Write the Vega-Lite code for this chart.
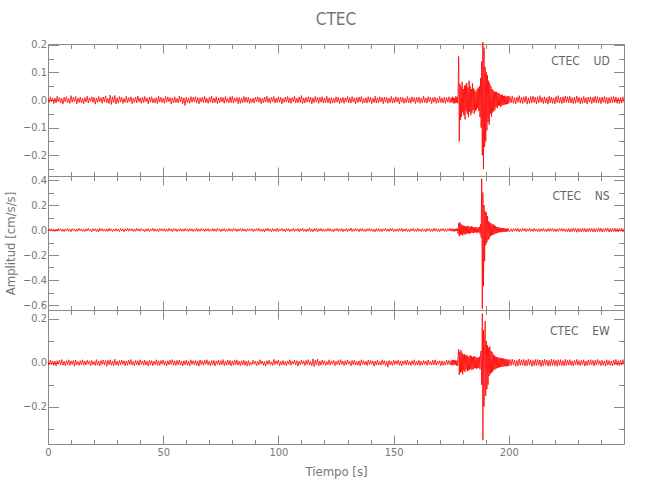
{
"$schema":"https://vega.github.io/schema/vega-lite/v6.json",
"autosize":{"type":"none"},
"padding":{"left":48,"top":44,"right":602,"bottom":456},
"background":"white",
"data":{"values":[
{"t":0,"u":0.003,"n":-0.005,"e":0.005},{"t":0.5,"u":-0.009,"n":0.009,"e":-0.010},{"t":1,"u":0.012,"n":-0.007,"e":0.013},{"t":1.5,"u":-0.006,"n":0.011,"e":-0.007},{"t":2,"u":0.008,"n":-0.010,"e":0.009},
{"t":2.5,"u":-0.013,"n":0.006,"e":-0.012},{"t":3,"u":0.007,"n":-0.012,"e":0.008},{"t":3.5,"u":-0.010,"n":0.008,"e":-0.014},{"t":4,"u":0.014,"n":-0.009,"e":0.010},{"t":4.5,"u":-0.005,"n":0.013,"e":-0.006},
{"t":5,"u":0.009,"n":-0.006,"e":0.012},{"t":5.5,"u":-0.011,"n":0.010,"e":-0.009},{"t":6,"u":0.006,"n":-0.011,"e":0.015},{"t":6.5,"u":-0.015,"n":0.007,"e":-0.011},{"t":7,"u":0.010,"n":-0.014,"e":0.007},
{"t":7.5,"u":-0.007,"n":0.009,"e":-0.013},{"t":8,"u":0.012,"n":-0.008,"e":0.010},{"t":8.5,"u":-0.009,"n":0.012,"e":-0.008},{"t":9,"u":0.005,"n":-0.010,"e":0.014},{"t":9.5,"u":-0.012,"n":0.006,"e":-0.012},
{"t":10,"u":0.016,"n":-0.013,"e":0.009},{"t":10.5,"u":-0.008,"n":0.011,"e":-0.007},{"t":11,"u":0.010,"n":-0.007,"e":0.011},{"t":11.5,"u":-0.006,"n":0.009,"e":-0.015},{"t":12,"u":0.013,"n":-0.012,"e":0.013},
{"t":12.5,"u":-0.014,"n":0.008,"e":-0.009},{"t":13,"u":0.007,"n":-0.010,"e":0.006},{"t":13.5,"u":-0.009,"n":0.014,"e":-0.012},{"t":14,"u":0.011,"n":-0.006,"e":0.010},{"t":14.5,"u":-0.010,"n":0.009,"e":-0.008},
{"t":15,"u":0.006,"n":-0.011,"e":0.014},{"t":15.5,"u":-0.013,"n":0.007,"e":-0.011},{"t":16,"u":0.009,"n":-0.013,"e":0.008},{"t":16.5,"u":-0.007,"n":0.010,"e":-0.010},{"t":17,"u":0.014,"n":-0.008,"e":0.012},
{"t":17.5,"u":-0.011,"n":0.012,"e":-0.006},{"t":18,"u":0.008,"n":-0.009,"e":0.009},{"t":18.5,"u":-0.005,"n":0.006,"e":-0.013},{"t":19,"u":0.012,"n":-0.014,"e":0.011},{"t":19.5,"u":-0.009,"n":0.011,"e":-0.009},
{"t":20,"u":0.010,"n":-0.007,"e":0.007},{"t":20.5,"u":-0.015,"n":0.010,"e":-0.012},{"t":21,"u":0.007,"n":-0.012,"e":0.015},{"t":21.5,"u":-0.008,"n":0.009,"e":-0.010},{"t":22,"u":0.013,"n":-0.016,"e":0.008},
{"t":22.5,"u":-0.006,"n":0.013,"e":-0.014},{"t":23,"u":0.009,"n":-0.008,"e":0.011},{"t":23.5,"u":-0.012,"n":0.011,"e":-0.007},{"t":24,"u":0.011,"n":-0.010,"e":0.013},{"t":24.5,"u":-0.007,"n":0.007,"e":-0.009},
{"t":25,"u":0.015,"n":-0.012,"e":0.010},{"t":25.5,"u":-0.010,"n":0.009,"e":-0.016},{"t":26,"u":0.006,"n":-0.011,"e":0.012},{"t":26.5,"u":-0.013,"n":0.014,"e":-0.008},{"t":27,"u":0.018,"n":-0.008,"e":0.014},
{"t":27.5,"u":-0.016,"n":0.010,"e":-0.011},{"t":28,"u":0.012,"n":-0.013,"e":0.009},{"t":28.5,"u":-0.009,"n":0.007,"e":-0.013},{"t":29,"u":0.017,"n":-0.009,"e":0.017},{"t":29.5,"u":-0.014,"n":0.012,"e":-0.010},
{"t":30,"u":0.008,"n":-0.010,"e":0.008},{"t":30.5,"u":-0.011,"n":0.008,"e":-0.012},{"t":31,"u":0.013,"n":-0.012,"e":0.011},{"t":31.5,"u":-0.007,"n":0.011,"e":-0.009},{"t":32,"u":0.010,"n":-0.007,"e":0.013},
{"t":32.5,"u":-0.012,"n":0.009,"e":-0.007},{"t":33,"u":0.006,"n":-0.014,"e":0.010},{"t":33.5,"u":-0.009,"n":0.010,"e":-0.014},{"t":34,"u":0.014,"n":-0.008,"e":0.009},{"t":34.5,"u":-0.010,"n":0.013,"e":-0.011},
{"t":35,"u":0.009,"n":-0.009,"e":0.012},{"t":35.5,"u":-0.006,"n":0.011,"e":-0.008},{"t":36,"u":0.012,"n":-0.006,"e":0.015},{"t":36.5,"u":-0.013,"n":0.010,"e":-0.010},{"t":37,"u":0.007,"n":-0.012,"e":0.007},
{"t":37.5,"u":-0.008,"n":0.008,"e":-0.013},{"t":38,"u":0.011,"n":-0.011,"e":0.011},{"t":38.5,"u":-0.010,"n":0.013,"e":-0.009},{"t":39,"u":0.015,"n":-0.007,"e":0.010},{"t":39.5,"u":-0.007,"n":0.009,"e":-0.012},
{"t":40,"u":0.008,"n":-0.010,"e":0.014},{"t":40.5,"u":-0.012,"n":0.012,"e":-0.007},{"t":41,"u":0.010,"n":-0.008,"e":0.009},{"t":41.5,"u":-0.009,"n":0.006,"e":-0.011},{"t":42,"u":0.013,"n":-0.013,"e":0.013},
{"t":42.5,"u":-0.006,"n":0.010,"e":-0.010},{"t":43,"u":0.007,"n":-0.009,"e":0.008},{"t":43.5,"u":-0.014,"n":0.011,"e":-0.015},{"t":44,"u":0.011,"n":-0.012,"e":0.012},{"t":44.5,"u":-0.008,"n":0.007,"e":-0.009},
{"t":45,"u":0.012,"n":-0.008,"e":0.010},{"t":45.5,"u":-0.010,"n":0.014,"e":-0.013},{"t":46,"u":0.006,"n":-0.010,"e":0.007},{"t":46.5,"u":-0.011,"n":0.009,"e":-0.008},{"t":47,"u":0.009,"n":-0.011,"e":0.014},
{"t":47.5,"u":-0.013,"n":0.007,"e":-0.011},{"t":48,"u":0.014,"n":-0.013,"e":0.009},{"t":48.5,"u":-0.007,"n":0.012,"e":-0.012},{"t":49,"u":0.010,"n":-0.006,"e":0.011},{"t":49.5,"u":-0.009,"n":0.010,"e":-0.006},
{"t":50,"u":0.007,"n":-0.009,"e":0.013},{"t":50.5,"u":-0.012,"n":0.011,"e":-0.010},{"t":51,"u":0.013,"n":-0.012,"e":0.008},{"t":51.5,"u":-0.008,"n":0.008,"e":-0.014},{"t":52,"u":0.011,"n":-0.010,"e":0.010},
{"t":52.5,"u":-0.006,"n":0.013,"e":-0.009},{"t":53,"u":0.009,"n":-0.007,"e":0.012},{"t":53.5,"u":-0.015,"n":0.009,"e":-0.007},{"t":54,"u":0.008,"n":-0.014,"e":0.015},{"t":54.5,"u":-0.010,"n":0.011,"e":-0.011},
{"t":55,"u":0.012,"n":-0.008,"e":0.009},{"t":55.5,"u":-0.009,"n":0.010,"e":-0.012},{"t":56,"u":0.006,"n":-0.012,"e":0.011},{"t":56.5,"u":-0.011,"n":0.006,"e":-0.008},{"t":57,"u":0.014,"n":-0.009,"e":0.013},
{"t":57.5,"u":-0.007,"n":0.013,"e":-0.010},{"t":58,"u":0.010,"n":-0.011,"e":0.007},{"t":58.5,"u":-0.013,"n":0.008,"e":-0.014},{"t":59,"u":0.008,"n":-0.010,"e":0.010},{"t":59.5,"u":-0.020,"n":0.012,"e":-0.009},
{"t":60,"u":0.011,"n":-0.007,"e":0.012},{"t":60.5,"u":-0.009,"n":0.009,"e":-0.011},{"t":61,"u":0.007,"n":-0.013,"e":0.008},{"t":61.5,"u":-0.012,"n":0.011,"e":-0.013},{"t":62,"u":0.013,"n":-0.008,"e":0.014},
{"t":62.5,"u":-0.008,"n":0.010,"e":-0.007},{"t":63,"u":0.010,"n":-0.012,"e":0.010},{"t":63.5,"u":-0.006,"n":0.007,"e":-0.009},{"t":64,"u":0.012,"n":-0.009,"e":0.011},{"t":64.5,"u":-0.011,"n":0.014,"e":-0.012},
{"t":65,"u":0.009,"n":-0.011,"e":0.009},{"t":65.5,"u":-0.014,"n":0.008,"e":-0.015},{"t":66,"u":0.008,"n":-0.010,"e":0.013},{"t":66.5,"u":-0.007,"n":0.012,"e":-0.008},{"t":67,"u":0.011,"n":-0.006,"e":0.010},
{"t":67.5,"u":-0.010,"n":0.009,"e":-0.011},{"t":68,"u":0.013,"n":-0.013,"e":0.012},{"t":68.5,"u":-0.009,"n":0.010,"e":-0.006},{"t":69,"u":0.006,"n":-0.008,"e":0.014},{"t":69.5,"u":-0.012,"n":0.011,"e":-0.010},
{"t":70,"u":0.010,"n":-0.012,"e":0.008},{"t":70.5,"u":-0.008,"n":0.007,"e":-0.013},{"t":71,"u":0.014,"n":-0.009,"e":0.011},{"t":71.5,"u":-0.011,"n":0.013,"e":-0.009},{"t":72,"u":0.007,"n":-0.010,"e":0.012},
{"t":72.5,"u":-0.009,"n":0.008,"e":-0.014},{"t":73,"u":0.012,"n":-0.011,"e":0.009},{"t":73.5,"u":-0.013,"n":0.012,"e":-0.007},{"t":74,"u":0.008,"n":-0.007,"e":0.013},{"t":74.5,"u":-0.010,"n":0.010,"e":-0.011},
{"t":75,"u":0.011,"n":-0.014,"e":0.010},{"t":75.5,"u":-0.007,"n":0.009,"e":-0.008},{"t":76,"u":0.009,"n":-0.008,"e":0.015},{"t":76.5,"u":-0.012,"n":0.011,"e":-0.012},{"t":77,"u":0.013,"n":-0.012,"e":0.007},
{"t":77.5,"u":-0.008,"n":0.006,"e":-0.010},{"t":78,"u":0.006,"n":-0.010,"e":0.013},{"t":78.5,"u":-0.010,"n":0.013,"e":-0.009},{"t":79,"u":0.012,"n":-0.009,"e":0.011},{"t":79.5,"u":-0.009,"n":0.008,"e":-0.014},
{"t":80,"u":0.014,"n":-0.011,"e":0.009},{"t":80.5,"u":-0.011,"n":0.012,"e":-0.011},{"t":81,"u":0.008,"n":-0.007,"e":0.012},{"t":81.5,"u":-0.006,"n":0.010,"e":-0.008},{"t":82,"u":0.010,"n":-0.013,"e":0.014},
{"t":82.5,"u":-0.013,"n":0.009,"e":-0.010},{"t":83,"u":0.009,"n":-0.008,"e":0.007},{"t":83.5,"u":-0.012,"n":0.011,"e":-0.013},{"t":84,"u":0.007,"n":-0.010,"e":0.010},{"t":84.5,"u":-0.010,"n":0.012,"e":-0.009},
{"t":85,"u":0.013,"n":-0.009,"e":0.012},{"t":85.5,"u":-0.008,"n":0.007,"e":-0.011},{"t":86,"u":0.011,"n":-0.012,"e":0.008},{"t":86.5,"u":-0.009,"n":0.010,"e":-0.014},{"t":87,"u":0.010,"n":-0.008,"e":0.010},
{"t":87.5,"u":-0.012,"n":0.011,"e":-0.012},
{"t":88,"u":0.005,"n":-0.005,"e":0.003},{"t":88.5,"u":-0.009,"n":0.010,"e":-0.009},{"t":89,"u":0.007,"n":-0.013,"e":0.012},{"t":89.5,"u":-0.011,"n":0.007,"e":-0.006},{"t":90,"u":0.010,"n":-0.009,"e":0.008},
{"t":90.5,"u":-0.006,"n":0.012,"e":-0.013},{"t":91,"u":0.012,"n":-0.008,"e":0.007},{"t":91.5,"u":-0.008,"n":0.014,"e":-0.010},{"t":92,"u":0.009,"n":-0.010,"e":0.014},{"t":92.5,"u":-0.013,"n":0.006,"e":-0.005},
{"t":93,"u":0.006,"n":-0.012,"e":0.009},{"t":93.5,"u":-0.010,"n":0.009,"e":-0.011},{"t":94,"u":0.011,"n":-0.015,"e":0.006},{"t":94.5,"u":-0.007,"n":0.011,"e":-0.015},{"t":95,"u":0.014,"n":-0.007,"e":0.010},
{"t":95.5,"u":-0.009,"n":0.013,"e":-0.007},{"t":96,"u":0.008,"n":-0.010,"e":0.012},{"t":96.5,"u":-0.012,"n":0.008,"e":-0.009},{"t":97,"u":0.010,"n":-0.014,"e":0.005},{"t":97.5,"u":-0.006,"n":0.012,"e":-0.012},
{"t":98,"u":0.013,"n":-0.009,"e":0.016},{"t":98.5,"u":-0.011,"n":0.007,"e":-0.008},{"t":99,"u":0.007,"n":-0.011,"e":0.010},{"t":99.5,"u":-0.009,"n":0.015,"e":-0.006},{"t":100,"u":0.012,"n":-0.013,"e":0.013},
{"t":100.5,"u":-0.008,"n":0.009,"e":-0.014},{"t":101,"u":0.010,"n":-0.006,"e":0.007},{"t":101.5,"u":-0.014,"n":0.012,"e":-0.009},{"t":102,"u":0.006,"n":-0.010,"e":0.011},{"t":102.5,"u":-0.009,"n":0.008,"e":-0.010},
{"t":103,"u":0.011,"n":-0.014,"e":0.006},{"t":103.5,"u":-0.007,"n":0.011,"e":-0.013},{"t":104,"u":0.013,"n":-0.008,"e":0.009},{"t":104.5,"u":-0.010,"n":0.010,"e":-0.007},{"t":105,"u":0.008,"n":-0.012,"e":0.014},
{"t":105.5,"u":-0.012,"n":0.006,"e":-0.011},{"t":106,"u":0.009,"n":-0.009,"e":0.008},{"t":106.5,"u":-0.006,"n":0.013,"e":-0.005},{"t":107,"u":0.014,"n":-0.011,"e":0.012},{"t":107.5,"u":-0.011,"n":0.009,"e":-0.009},
{"t":108,"u":0.007,"n":-0.007,"e":0.010},{"t":108.5,"u":-0.010,"n":0.012,"e":-0.015},{"t":109,"u":0.012,"n":-0.015,"e":0.007},{"t":109.5,"u":-0.009,"n":0.010,"e":-0.008},{"t":110,"u":0.016,"n":-0.008,"e":0.013},
{"t":110.5,"u":-0.013,"n":0.014,"e":-0.006},{"t":111,"u":0.008,"n":-0.011,"e":0.009},{"t":111.5,"u":-0.011,"n":0.007,"e":-0.012},{"t":112,"u":0.010,"n":-0.013,"e":0.011},{"t":112.5,"u":-0.007,"n":0.009,"e":-0.007},
{"t":113,"u":0.012,"n":-0.010,"e":0.015},{"t":113.5,"u":-0.009,"n":0.016,"e":-0.010},{"t":114,"u":0.011,"n":-0.012,"e":0.006},{"t":114.5,"u":-0.014,"n":0.008,"e":-0.013},{"t":115,"u":0.008,"n":-0.014,"e":0.018},
{"t":115.5,"u":-0.010,"n":0.011,"e":-0.016},{"t":116,"u":0.013,"n":-0.009,"e":0.012},{"t":116.5,"u":-0.007,"n":0.013,"e":-0.009},{"t":117,"u":0.009,"n":-0.017,"e":0.017},{"t":117.5,"u":-0.012,"n":0.010,"e":-0.014},
{"t":118,"u":0.010,"n":-0.008,"e":0.008},{"t":118.5,"u":-0.008,"n":0.012,"e":-0.011},{"t":119,"u":0.012,"n":-0.011,"e":0.013},{"t":119.5,"u":-0.011,"n":0.009,"e":-0.007},{"t":120,"u":0.007,"n":-0.013,"e":0.010},
{"t":120.5,"u":-0.009,"n":0.007,"e":-0.012},{"t":121,"u":0.014,"n":-0.010,"e":0.006},{"t":121.5,"u":-0.010,"n":0.014,"e":-0.009},{"t":122,"u":0.008,"n":-0.009,"e":0.014},{"t":122.5,"u":-0.013,"n":0.011,"e":-0.010},
{"t":123,"u":0.009,"n":-0.012,"e":0.009},{"t":123.5,"u":-0.011,"n":0.008,"e":-0.006},{"t":124,"u":0.006,"n":-0.015,"e":0.012},{"t":124.5,"u":-0.010,"n":0.010,"e":-0.013},{"t":125,"u":0.012,"n":-0.007,"e":0.007},
{"t":125.5,"u":-0.008,"n":0.013,"e":-0.008},{"t":126,"u":0.011,"n":-0.011,"e":0.011},{"t":126.5,"u":-0.013,"n":0.009,"e":-0.010},{"t":127,"u":0.007,"n":-0.010,"e":0.015},{"t":127.5,"u":-0.009,"n":0.012,"e":-0.007},
{"t":128,"u":0.010,"n":-0.014,"e":0.008},{"t":128.5,"u":-0.012,"n":0.007,"e":-0.012},{"t":129,"u":0.008,"n":-0.009,"e":0.010},{"t":129.5,"u":-0.006,"n":0.011,"e":-0.009},{"t":130,"u":0.013,"n":-0.013,"e":0.013},
{"t":130.5,"u":-0.010,"n":0.010,"e":-0.006},{"t":131,"u":0.009,"n":-0.008,"e":0.007},{"t":131.5,"u":-0.011,"n":0.015,"e":-0.014},{"t":132,"u":0.012,"n":-0.012,"e":0.011},{"t":132.5,"u":-0.007,"n":0.009,"e":-0.008},
{"t":133,"u":0.008,"n":-0.010,"e":0.012},{"t":133.5,"u":-0.014,"n":0.013,"e":-0.010},{"t":134,"u":0.010,"n":-0.007,"e":0.006},{"t":134.5,"u":-0.009,"n":0.008,"e":-0.011},{"t":135,"u":0.011,"n":-0.014,"e":0.009},
{"t":135.5,"u":-0.007,"n":0.011,"e":-0.013},{"t":136,"u":0.013,"n":-0.009,"e":0.014},{"t":136.5,"u":-0.012,"n":0.012,"e":-0.007},{"t":137,"u":0.006,"n":-0.011,"e":0.010},{"t":137.5,"u":-0.010,"n":0.006,"e":-0.009},
{"t":138,"u":0.009,"n":-0.013,"e":0.007},{"t":138.5,"u":-0.011,"n":0.010,"e":-0.012},{"t":139,"u":0.012,"n":-0.008,"e":0.013},{"t":139.5,"u":-0.008,"n":0.014,"e":-0.008},{"t":140,"u":0.010,"n":-0.010,"e":0.011},
{"t":140.5,"u":-0.013,"n":0.009,"e":-0.006},{"t":141,"u":0.007,"n":-0.012,"e":0.009},{"t":141.5,"u":-0.009,"n":0.007,"e":-0.015},{"t":142,"u":0.014,"n":-0.015,"e":0.008},{"t":142.5,"u":-0.011,"n":0.011,"e":-0.010},
{"t":143,"u":0.008,"n":-0.009,"e":0.012},{"t":143.5,"u":-0.010,"n":0.012,"e":-0.009},{"t":144,"u":0.012,"n":-0.011,"e":0.006},{"t":144.5,"u":-0.006,"n":0.008,"e":-0.011},{"t":145,"u":0.009,"n":-0.013,"e":0.014},
{"t":145.5,"u":-0.013,"n":0.010,"e":-0.007},{"t":146,"u":0.011,"n":-0.007,"e":0.010},{"t":146.5,"u":-0.008,"n":0.014,"e":-0.013},{"t":147,"u":0.010,"n":-0.010,"e":0.008},{"t":147.5,"u":-0.012,"n":0.009,"e":-0.020},
{"t":148,"u":0.007,"n":-0.012,"e":0.011},{"t":148.5,"u":-0.009,"n":0.011,"e":-0.009},{"t":149,"u":0.013,"n":-0.008,"e":0.007},{"t":149.5,"u":-0.011,"n":0.013,"e":-0.012},{"t":150,"u":0.008,"n":-0.014,"e":0.013},
{"t":150.5,"u":-0.010,"n":0.007,"e":-0.008},{"t":151,"u":0.012,"n":-0.010,"e":0.010},{"t":151.5,"u":-0.007,"n":0.009,"e":-0.006},{"t":152,"u":0.009,"n":-0.011,"e":0.012},{"t":152.5,"u":-0.014,"n":0.012,"e":-0.011},
{"t":153,"u":0.011,"n":-0.009,"e":0.009},{"t":153.5,"u":-0.008,"n":0.015,"e":-0.014},{"t":154,"u":0.010,"n":-0.013,"e":0.008},{"t":154.5,"u":-0.012,"n":0.008,"e":-0.007},{"t":155,"u":0.006,"n":-0.010,"e":0.011},
{"t":155.5,"u":-0.009,"n":0.011,"e":-0.010},{"t":156,"u":0.013,"n":-0.012,"e":0.013},{"t":156.5,"u":-0.010,"n":0.006,"e":-0.009},{"t":157,"u":0.008,"n":-0.014,"e":0.006},{"t":157.5,"u":-0.011,"n":0.010,"e":-0.012},
{"t":158,"u":0.012,"n":-0.008,"e":0.010},{"t":158.5,"u":-0.007,"n":0.013,"e":-0.008},{"t":159,"u":0.009,"n":-0.011,"e":0.014},{"t":159.5,"u":-0.013,"n":0.009,"e":-0.011},{"t":160,"u":0.010,"n":-0.012,"e":0.007},
{"t":160.5,"u":-0.008,"n":0.014,"e":-0.009},{"t":161,"u":0.011,"n":-0.009,"e":0.012},{"t":161.5,"u":-0.012,"n":0.007,"e":-0.013},{"t":162,"u":0.007,"n":-0.013,"e":0.008},{"t":162.5,"u":-0.010,"n":0.011,"e":-0.010},
{"t":163,"u":0.014,"n":-0.010,"e":0.011},{"t":163.5,"u":-0.009,"n":0.008,"e":-0.007},{"t":164,"u":0.008,"n":-0.015,"e":0.009},{"t":164.5,"u":-0.011,"n":0.012,"e":-0.012},{"t":165,"u":0.012,"n":-0.007,"e":0.013},
{"t":165.5,"u":-0.006,"n":0.010,"e":-0.008},{"t":166,"u":0.010,"n":-0.013,"e":0.006},{"t":166.5,"u":-0.013,"n":0.009,"e":-0.010},{"t":167,"u":0.009,"n":-0.011,"e":0.012},{"t":167.5,"u":-0.008,"n":0.014,"e":-0.009},
{"t":168,"u":0.011,"n":-0.009,"e":0.014},{"t":168.5,"u":-0.012,"n":0.011,"e":-0.011},{"t":169,"u":0.007,"n":-0.012,"e":0.008},{"t":169.5,"u":-0.010,"n":0.008,"e":-0.006},{"t":170,"u":0.013,"n":-0.014,"e":0.010},
{"t":170.5,"u":-0.009,"n":0.010,"e":-0.013},{"t":171,"u":0.008,"n":-0.007,"e":0.009},{"t":171.5,"u":-0.011,"n":0.013,"e":-0.012},{"t":172,"u":0.010,"n":-0.010,"e":0.007},{"t":172.5,"u":-0.012,"n":0.009,"e":-0.010},
{"t":173,"u":0.009,"n":-0.012,"e":0.013},{"t":173.5,"u":-0.007,"n":0.011,"e":-0.008},{"t":174,"u":0.012,"n":-0.008,"e":0.011},{"t":174.5,"u":-0.010,"n":0.014,"e":-0.009},{"t":175,"u":0.008,"n":-0.010,"e":0.010},
{"t":175.25,"u":-0.008,"n":0.009,"e":-0.011},{"t":175.5,"u":0.012,"n":-0.007,"e":0.013},{"t":175.75,"u":-0.010,"n":0.011,"e":-0.009},{"t":176,"u":0.009,"n":-0.010,"e":0.012},
{"t":176.25,"u":-0.013,"n":0.008,"e":-0.010},{"t":176.5,"u":0.007,"n":-0.012,"e":0.014},{"t":176.75,"u":-0.011,"n":0.009,"e":-0.008},{"t":177,"u":0.014,"n":-0.008,"e":0.011},
{"t":177.25,"u":-0.009,"n":0.012,"e":-0.013},{"t":177.5,"u":0.011,"n":-0.009,"e":0.010},{"t":177.75,"u":-0.012,"n":0.010,"e":-0.012},{"t":178,"u":0.030,"n":-0.030,"e":0.030},
{"t":178.25,"u":0.158,"n":0.055,"e":0.062},{"t":178.5,"u":-0.150,"n":-0.050,"e":-0.055},{"t":178.75,"u":0.060,"n":0.062,"e":0.050},{"t":179,"u":-0.072,"n":-0.040,"e":-0.045},
{"t":179.25,"u":0.050,"n":0.048,"e":0.058},{"t":179.5,"u":-0.060,"n":-0.035,"e":-0.040},{"t":179.75,"u":0.066,"n":0.040,"e":0.045},{"t":180,"u":-0.045,"n":-0.045,"e":-0.052},
{"t":180.25,"u":0.040,"n":0.035,"e":0.038},{"t":180.5,"u":-0.055,"n":-0.030,"e":-0.035},{"t":180.75,"u":0.052,"n":0.032,"e":0.040},{"t":181,"u":-0.070,"n":-0.038,"e":-0.042},
{"t":181.25,"u":0.055,"n":0.028,"e":0.033},{"t":181.5,"u":-0.040,"n":-0.032,"e":-0.030},{"t":181.75,"u":0.062,"n":0.030,"e":0.036},{"t":182,"u":-0.050,"n":-0.026,"e":-0.038},
{"t":182.25,"u":0.045,"n":0.034,"e":0.030},{"t":182.5,"u":-0.062,"n":-0.028,"e":-0.034},{"t":182.75,"u":0.070,"n":0.025,"e":0.028},{"t":183,"u":-0.042,"n":-0.030,"e":-0.032},
{"t":183.25,"u":0.050,"n":0.027,"e":0.035},{"t":183.5,"u":-0.055,"n":-0.024,"e":-0.027},{"t":183.75,"u":0.040,"n":0.030,"e":0.031},{"t":184,"u":-0.046,"n":-0.022,"e":-0.033},
{"t":184.25,"u":0.060,"n":0.026,"e":0.026},{"t":184.5,"u":-0.036,"n":-0.025,"e":-0.029},{"t":184.75,"u":0.042,"n":0.020,"e":0.030},{"t":185,"u":-0.050,"n":-0.023,"e":-0.025},
{"t":185.25,"u":0.035,"n":0.022,"e":0.028},{"t":185.5,"u":-0.040,"n":-0.018,"e":-0.024},{"t":185.75,"u":0.030,"n":0.024,"e":0.027},{"t":186,"u":-0.035,"n":-0.020,"e":-0.026},
{"t":186.25,"u":0.040,"n":0.018,"e":0.022},{"t":186.5,"u":-0.030,"n":-0.022,"e":-0.025},{"t":186.75,"u":0.045,"n":0.020,"e":0.024},{"t":187,"u":-0.040,"n":-0.018,"e":-0.022},
{"t":187.25,"u":0.050,"n":0.025,"e":0.028},{"t":187.5,"u":-0.062,"n":-0.030,"e":-0.030},{"t":187.75,"u":0.080,"n":0.045,"e":0.040},{"t":188,"u":-0.100,"n":-0.060,"e":0.055},
{"t":188.25,"u":0.140,"n":0.410,"e":-0.100},{"t":188.5,"u":-0.200,"n":-0.630,"e":0.225},{"t":188.75,"u":0.210,"n":0.300,"e":-0.353},{"t":189,"u":-0.250,"n":-0.450,"e":0.150},
{"t":189.25,"u":0.190,"n":0.200,"e":-0.200},{"t":189.5,"u":-0.170,"n":-0.250,"e":0.100},{"t":189.75,"u":0.120,"n":0.150,"e":0.190},{"t":190,"u":-0.150,"n":-0.120,"e":-0.150},
{"t":190.25,"u":0.100,"n":0.140,"e":0.100},{"t":190.5,"u":-0.110,"n":-0.100,"e":-0.120},{"t":190.75,"u":0.090,"n":0.110,"e":0.080},{"t":191,"u":-0.080,"n":-0.080,"e":-0.100},
{"t":191.25,"u":0.070,"n":0.070,"e":0.070},{"t":191.5,"u":-0.090,"n":-0.070,"e":-0.060},{"t":191.75,"u":0.060,"n":0.060,"e":0.074},{"t":192,"u":-0.050,"n":-0.050,"e":-0.050},
{"t":192.25,"u":0.050,"n":0.055,"e":0.055},{"t":192.5,"u":-0.060,"n":-0.045,"e":-0.045},{"t":192.75,"u":0.040,"n":0.045,"e":0.050},{"t":193,"u":-0.045,"n":-0.040,"e":-0.040},
{"t":193.25,"u":0.035,"n":0.045,"e":0.038},{"t":193.5,"u":-0.040,"n":-0.035,"e":-0.032},{"t":193.75,"u":0.030,"n":0.040,"e":0.035},{"t":194,"u":-0.035,"n":-0.030,"e":-0.030},
{"t":194.25,"u":0.030,"n":0.030,"e":0.028},{"t":194.5,"u":-0.025,"n":-0.028,"e":-0.026},{"t":194.75,"u":0.030,"n":0.025,"e":0.027},{"t":195,"u":-0.030,"n":-0.024,"e":-0.024},
{"t":195.25,"u":0.025,"n":0.022,"e":0.025},{"t":195.5,"u":-0.020,"n":-0.020,"e":-0.022},{"t":195.75,"u":0.025,"n":0.020,"e":0.024},{"t":196,"u":-0.020,"n":-0.018,"e":-0.020},
{"t":196.25,"u":0.020,"n":0.019,"e":0.021},{"t":196.5,"u":-0.025,"n":-0.017,"e":-0.019},{"t":196.75,"u":0.018,"n":0.016,"e":0.022},{"t":197,"u":-0.020,"n":-0.018,"e":-0.018},
{"t":197.25,"u":0.020,"n":0.015,"e":0.020},{"t":197.5,"u":-0.018,"n":-0.016,"e":-0.017},{"t":197.75,"u":0.015,"n":0.014,"e":0.019},{"t":198,"u":-0.018,"n":-0.015,"e":-0.016},
{"t":198.25,"u":0.016,"n":0.013,"e":0.018},{"t":198.5,"u":-0.015,"n":-0.014,"e":-0.015},{"t":198.75,"u":0.014,"n":0.012,"e":0.017},{"t":199,"u":-0.016,"n":-0.013,"e":-0.016},
{"t":199.25,"u":0.013,"n":0.012,"e":0.015},{"t":199.5,"u":-0.014,"n":-0.011,"e":-0.014},{"t":199.75,"u":0.015,"n":0.012,"e":0.016},{"t":200,"u":-0.012,"n":-0.010,"e":-0.015},
{"t":200.5,"u":0.013,"n":-0.012,"e":0.015},{"t":201,"u":-0.010,"n":0.010,"e":-0.012},{"t":201.5,"u":0.015,"n":-0.014,"e":0.017},{"t":202,"u":-0.012,"n":0.011,"e":-0.010},{"t":202.5,"u":0.009,"n":-0.009,"e":0.013},
{"t":203,"u":-0.014,"n":0.013,"e":-0.016},{"t":203.5,"u":0.011,"n":-0.010,"e":0.011},{"t":204,"u":-0.008,"n":0.012,"e":-0.014},{"t":204.5,"u":0.016,"n":-0.015,"e":0.018},{"t":205,"u":-0.011,"n":0.009,"e":-0.012},
{"t":205.5,"u":0.010,"n":-0.011,"e":0.014},{"t":206,"u":-0.013,"n":0.014,"e":-0.011},{"t":206.5,"u":0.012,"n":-0.008,"e":0.016},{"t":207,"u":-0.009,"n":0.012,"e":-0.015},{"t":207.5,"u":0.014,"n":-0.013,"e":0.012},
{"t":208,"u":-0.015,"n":0.010,"e":-0.013},{"t":208.5,"u":0.008,"n":-0.009,"e":0.017},{"t":209,"u":-0.012,"n":0.015,"e":-0.010},{"t":209.5,"u":0.013,"n":-0.011,"e":0.014},{"t":210,"u":-0.010,"n":0.008,"e":-0.016},
{"t":210.5,"u":0.015,"n":-0.012,"e":0.011},{"t":211,"u":-0.009,"n":0.013,"e":-0.013},{"t":211.5,"u":0.011,"n":-0.010,"e":0.015},{"t":212,"u":-0.014,"n":0.009,"e":-0.012},{"t":212.5,"u":0.012,"n":-0.014,"e":0.016},
{"t":213,"u":-0.010,"n":0.011,"e":-0.011},{"t":213.5,"u":0.016,"n":-0.012,"e":0.013},{"t":214,"u":-0.008,"n":0.010,"e":-0.017},{"t":214.5,"u":0.010,"n":-0.009,"e":0.012},{"t":215,"u":-0.013,"n":0.013,"e":-0.014},
{"t":215.5,"u":0.012,"n":-0.011,"e":0.016},{"t":216,"u":-0.011,"n":0.008,"e":-0.010},{"t":216.5,"u":0.009,"n":-0.013,"e":0.013},{"t":217,"u":-0.015,"n":0.012,"e":-0.015},{"t":217.5,"u":0.014,"n":-0.010,"e":0.011},
{"t":218,"u":-0.010,"n":0.014,"e":-0.014},{"t":218.5,"u":0.011,"n":-0.009,"e":0.017},{"t":219,"u":-0.012,"n":0.011,"e":-0.012},{"t":219.5,"u":0.008,"n":-0.012,"e":0.015},{"t":220,"u":-0.014,"n":0.010,"e":-0.013},
{"t":220.5,"u":0.013,"n":-0.013,"e":0.012},{"t":221,"u":-0.009,"n":0.009,"e":-0.016},{"t":221.5,"u":0.016,"n":-0.011,"e":0.014},{"t":222,"u":-0.011,"n":0.012,"e":-0.011},{"t":222.5,"u":0.010,"n":-0.008,"e":0.015},
{"t":223,"u":-0.013,"n":0.013,"e":-0.013},{"t":223.5,"u":0.012,"n":-0.010,"e":0.010},{"t":224,"u":-0.010,"n":0.011,"e":-0.014},{"t":224.5,"u":0.015,"n":-0.012,"e":0.016},{"t":225,"u":-0.008,"n":0.009,"e":-0.012},
{"t":225.5,"u":0.012,"n":-0.015,"e":0.013},{"t":226,"u":-0.010,"n":0.012,"e":-0.010},{"t":226.5,"u":0.014,"n":-0.017,"e":0.015},{"t":227,"u":-0.011,"n":0.010,"e":-0.012},{"t":227.5,"u":0.009,"n":-0.013,"e":0.009},
{"t":228,"u":-0.013,"n":0.016,"e":-0.014},{"t":228.5,"u":0.010,"n":-0.011,"e":0.011},{"t":229,"u":-0.012,"n":0.014,"e":-0.008},{"t":229.5,"u":0.015,"n":-0.018,"e":0.016},{"t":230,"u":-0.009,"n":0.012,"e":-0.011},
{"t":230.5,"u":0.011,"n":-0.014,"e":0.010},{"t":231,"u":-0.014,"n":0.011,"e":-0.013},{"t":231.5,"u":0.008,"n":-0.016,"e":0.012},{"t":232,"u":-0.012,"n":0.015,"e":-0.009},{"t":232.5,"u":0.013,"n":-0.012,"e":0.014},
{"t":233,"u":-0.010,"n":0.013,"e":-0.015},{"t":233.5,"u":0.009,"n":-0.017,"e":0.008},{"t":234,"u":-0.015,"n":0.010,"e":-0.012},{"t":234.5,"u":0.011,"n":-0.014,"e":0.013},{"t":235,"u":-0.008,"n":0.016,"e":-0.010},
{"t":235.5,"u":0.012,"n":-0.011,"e":0.015},{"t":236,"u":-0.013,"n":0.013,"e":-0.009},{"t":236.5,"u":0.010,"n":-0.015,"e":0.011},{"t":237,"u":-0.009,"n":0.012,"e":-0.014},{"t":237.5,"u":0.014,"n":-0.016,"e":0.012},
{"t":238,"u":-0.011,"n":0.011,"e":-0.010},{"t":238.5,"u":0.012,"n":-0.013,"e":0.016},{"t":239,"u":-0.010,"n":0.017,"e":-0.008},{"t":239.5,"u":0.009,"n":-0.012,"e":0.010},{"t":240,"u":-0.013,"n":0.014,"e":-0.013},
{"t":240.5,"u":0.011,"n":-0.016,"e":0.012},{"t":241,"u":-0.008,"n":0.010,"e":-0.011},{"t":241.5,"u":0.013,"n":-0.013,"e":0.009},{"t":242,"u":-0.012,"n":0.015,"e":-0.015},{"t":242.5,"u":0.010,"n":-0.011,"e":0.014},
{"t":243,"u":-0.014,"n":0.014,"e":-0.010},{"t":243.5,"u":0.009,"n":-0.017,"e":0.011},{"t":244,"u":-0.011,"n":0.012,"e":-0.012},{"t":244.5,"u":0.012,"n":-0.015,"e":0.008},{"t":245,"u":-0.010,"n":0.013,"e":-0.014},
{"t":245.5,"u":0.013,"n":-0.012,"e":0.013},{"t":246,"u":-0.009,"n":0.016,"e":-0.009},{"t":246.5,"u":0.011,"n":-0.014,"e":0.016},{"t":247,"u":-0.012,"n":0.011,"e":-0.011},{"t":247.5,"u":0.008,"n":-0.015,"e":0.010},
{"t":248,"u":-0.013,"n":0.013,"e":-0.013},{"t":248.5,"u":0.010,"n":-0.010,"e":0.012},{"t":249,"u":-0.011,"n":0.014,"e":-0.010},{"t":249.5,"u":0.012,"n":-0.016,"e":0.015},{"t":250,"u":-0.009,"n":0.012,"e":-0.008}
]},
"vconcat":[
{
"width":576,"height":132,
"title":{"text":"CTEC","offset":10},
"layer":[
{"mark":{"type":"line","color":"#ff0000","strokeWidth":0.8},
 "encoding":{
  "x":{"field":"t","type":"quantitative","scale":{"domain":[0,250],"nice":false,"zero":false},
   "axis":{"orient":"bottom","values":[0,10,20,30,40,50,60,70,80,90,100,110,120,130,140,150,160,170,180,190,200,210,220,230,240],"labels":false,"title":null,
    "tickSize":{"condition":{"test":"datum.value % 50 === 0","value":-9},"value":-4.5}}},
  "y":{"field":"u","type":"quantitative","scale":{"domain":[-0.275,0.203],"nice":false,"zero":false},
   "axis":{"orient":"left","values":[-0.25,-0.2,-0.15,-0.1,-0.05,0,0.05,0.1,0.15,0.2],"format":".1f","title":null,"labelPadding":12,
    "labelExpr":"abs(datum.value*10-round(datum.value*10))<0.000001 ? datum.label : ''",
    "tickSize":{"condition":{"test":"abs(datum.value*10-round(datum.value*10))<0.000001","value":-10.5},"value":-5.5}}}
 }},
{"mark":{"type":"line","strokeOpacity":0},
 "encoding":{
  "x":{"field":"t","type":"quantitative","scale":{"domain":[0,250],"nice":false,"zero":false},
   "axis":{"orient":"top","values":[0,10,20,30,40,50,60,70,80,90,100,110,120,130,140,150,160,170,180,190,200,210,220,230,240],"labels":false,"title":null,
    "tickSize":{"condition":{"test":"datum.value % 50 === 0","value":-9},"value":-4.5}}},
  "y":{"field":"u","type":"quantitative","scale":{"domain":[-0.275,0.203],"nice":false,"zero":false},
   "axis":{"orient":"right","values":[-0.25,-0.2,-0.15,-0.1,-0.05,0,0.05,0.1,0.15,0.2],"labels":false,"title":null,
    "tickSize":{"condition":{"test":"abs(datum.value*10-round(datum.value*10))<0.000001","value":-10.5},"value":-5.5}}}
 }},
{"data":{"values":[{}]},
 "mark":{"type":"text","text":"CTEC\u00a0\u00a0\u00a0\u00a0UD","align":"right","baseline":"middle","font":"DejaVu Sans Condensed","fontSize":12,"color":"#666666"},
 "encoding":{
  "x":{"datum":243.8,"type":"quantitative","scale":{"domain":[0,250],"nice":false,"zero":false},"axis":null},
  "y":{"datum":0.143,"type":"quantitative","scale":{"domain":[-0.275,0.203],"nice":false,"zero":false},"axis":null}
 }}
],
"resolve":{"axis":{"x":"independent","y":"independent"}}
},
{
"width":576,"height":134,
"layer":[
{"mark":{"type":"line","color":"#ff0000","strokeWidth":0.8},
 "encoding":{
  "x":{"field":"t","type":"quantitative","scale":{"domain":[0,250],"nice":false,"zero":false},
   "axis":{"orient":"bottom","values":[0,10,20,30,40,50,60,70,80,90,100,110,120,130,140,150,160,170,180,190,200,210,220,230,240],"labels":false,"title":null,
    "tickSize":{"condition":{"test":"datum.value % 50 === 0","value":-9},"value":-4.5}}},
  "y":{"field":"n","type":"quantitative","scale":{"domain":[-0.64,0.432],"nice":false,"zero":false},
   "axis":{"orient":"left","values":[-0.6,-0.5,-0.4,-0.3,-0.2,-0.1,0,0.1,0.2,0.3,0.4],"format":".1f","title":"Amplitud [cm/s/s]","titlePadding":5,"titleFontSize":13,"labelPadding":12,
    "labelExpr":"abs(datum.value*5-round(datum.value*5))<0.000001 ? datum.label : ''",
    "tickSize":{"condition":{"test":"abs(datum.value*5-round(datum.value*5))<0.000001","value":-10.5},"value":-5.5}}}
 }},
{"mark":{"type":"line","strokeOpacity":0},
 "encoding":{
  "x":{"field":"t","type":"quantitative","scale":{"domain":[0,250],"nice":false,"zero":false},
   "axis":{"orient":"top","values":[0,10,20,30,40,50,60,70,80,90,100,110,120,130,140,150,160,170,180,190,200,210,220,230,240],"labels":false,"title":null,
    "tickSize":{"condition":{"test":"datum.value % 50 === 0","value":-9},"value":-4.5}}},
  "y":{"field":"n","type":"quantitative","scale":{"domain":[-0.64,0.432],"nice":false,"zero":false},
   "axis":{"orient":"right","values":[-0.6,-0.5,-0.4,-0.3,-0.2,-0.1,0,0.1,0.2,0.3,0.4],"labels":false,"title":null,
    "tickSize":{"condition":{"test":"abs(datum.value*5-round(datum.value*5))<0.000001","value":-10.5},"value":-5.5}}}
 }},
{"data":{"values":[{}]},
 "mark":{"type":"text","text":"CTEC\u00a0\u00a0\u00a0\u00a0NS","align":"right","baseline":"middle","font":"DejaVu Sans Condensed","fontSize":12,"color":"#666666"},
 "encoding":{
  "x":{"datum":243.8,"type":"quantitative","scale":{"domain":[0,250],"nice":false,"zero":false},"axis":null},
  "y":{"datum":0.274,"type":"quantitative","scale":{"domain":[-0.64,0.432],"nice":false,"zero":false},"axis":null}
 }}
],
"resolve":{"axis":{"x":"independent","y":"independent"}}
},
{
"width":576,"height":134,
"layer":[
{"mark":{"type":"line","color":"#ff0000","strokeWidth":0.8},
 "encoding":{
  "x":{"field":"t","type":"quantitative","scale":{"domain":[0,250],"nice":false,"zero":false},
   "axis":{"orient":"bottom","values":[0,10,20,30,40,50,60,70,80,90,100,110,120,130,140,150,160,170,180,190,200,210,220,230,240],"format":"d","title":"Tiempo [s]","titlePadding":4,"titleFontSize":13,"labelPadding":11,
    "labelExpr":"datum.value % 50 === 0 ? datum.label : ''",
    "tickSize":{"condition":{"test":"datum.value % 50 === 0","value":-9},"value":-4.5}}},
  "y":{"field":"e","type":"quantitative","scale":{"domain":[-0.37,0.241],"nice":false,"zero":false},
   "axis":{"orient":"left","values":[-0.3,-0.2,-0.1,0,0.1,0.2],"format":".1f","title":null,"labelPadding":12,
    "labelExpr":"abs(datum.value*5-round(datum.value*5))<0.000001 ? datum.label : ''",
    "tickSize":{"condition":{"test":"abs(datum.value*5-round(datum.value*5))<0.000001","value":-10.5},"value":-5.5}}}
 }},
{"mark":{"type":"line","strokeOpacity":0},
 "encoding":{
  "x":{"field":"t","type":"quantitative","scale":{"domain":[0,250],"nice":false,"zero":false},
   "axis":{"orient":"top","values":[0,10,20,30,40,50,60,70,80,90,100,110,120,130,140,150,160,170,180,190,200,210,220,230,240],"labels":false,"title":null,
    "tickSize":{"condition":{"test":"datum.value % 50 === 0","value":-9},"value":-4.5}}},
  "y":{"field":"e","type":"quantitative","scale":{"domain":[-0.37,0.241],"nice":false,"zero":false},
   "axis":{"orient":"right","values":[-0.3,-0.2,-0.1,0,0.1,0.2],"labels":false,"title":null,
    "tickSize":{"condition":{"test":"abs(datum.value*5-round(datum.value*5))<0.000001","value":-10.5},"value":-5.5}}}
 }},
{"data":{"values":[{}]},
 "mark":{"type":"text","text":"CTEC\u00a0\u00a0\u00a0\u00a0EW","align":"right","baseline":"middle","font":"DejaVu Sans Condensed","fontSize":12,"color":"#666666"},
 "encoding":{
  "x":{"datum":243.8,"type":"quantitative","scale":{"domain":[0,250],"nice":false,"zero":false},"axis":null},
  "y":{"datum":0.145,"type":"quantitative","scale":{"domain":[-0.37,0.241],"nice":false,"zero":false},"axis":null}
 }}
],
"resolve":{"axis":{"x":"independent","y":"independent"}}
}
],
"spacing":0,
"bounds":"flush",
"config":{
 "view":{"stroke":null},
 "axis":{"domainColor":"#8a8a8a","tickColor":"#8a8a8a","labelColor":"#777777","titleColor":"#777777","labelFont":"DejaVu Sans Condensed","titleFont":"DejaVu Sans Condensed","labelFontSize":11,"titleFontSize":12,"titleFontWeight":"normal","grid":false,"labelFlush":false,"labelOverlap":false,"domainWidth":1,"tickWidth":1},
 "title":{"font":"DejaVu Sans Condensed","fontSize":17,"fontWeight":"normal","color":"#777777","anchor":"middle"}
}
}
